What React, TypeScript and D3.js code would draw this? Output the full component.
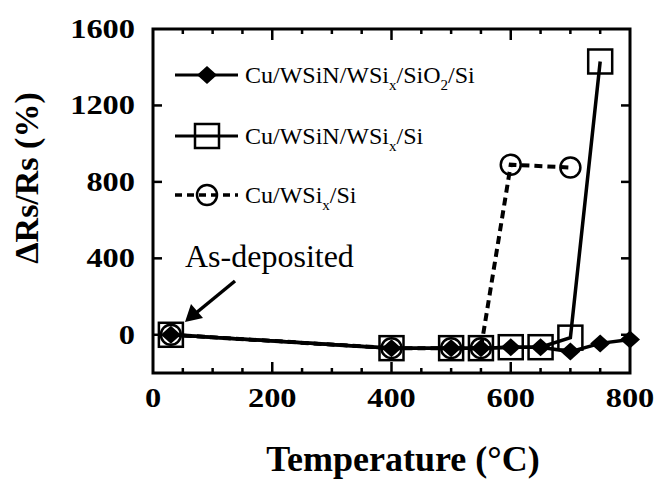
import * as d3 from "d3";

const W = 662;
const H = 481;
const FRAME = { left: 153, right: 630, top: 29, bottom: 373 };

// temperatures (°C) and ΔRs/Rs (%)
const tempSiO2 = [30, 400, 500, 550, 600, 650, 700, 750, 800];
const valSiO2 = [0, -70, -70, -70, -65, -65, -88, -45, -25];

const tempWSiN = [30, 400, 500, 550, 600, 650, 700, 750];
const valWSiN = [0, -70, -70, -70, -65, -65, -15, 1430];

const tempWSix = [30, 400, 500, 550, 600, 700];
const valWSix = [0, -70, -70, -70, 890, 875];

const xMajor = [0, 200, 400, 600, 800];
const yMajor = [0, 400, 800, 1200, 1600];

const SERIF = "'Liberation Serif', 'Times New Roman', serif";

const toPts = (t: number[], v: number[]) => t.map((d, i) => ({ x: d, y: v[i] }));

const Diamond = ({ cx, cy }: { cx: number; cy: number }) => (
  <path d={`M${cx},${cy - 9} L${cx + 10},${cy} L${cx},${cy + 9} L${cx - 10},${cy} Z`} fill="#000" />
);
const Square = ({ cx, cy }: { cx: number; cy: number }) => (
  <rect x={cx - 12} y={cy - 12} width={24} height={24} fill="none" stroke="#000" strokeWidth={2.5} />
);
const Circle = ({ cx, cy }: { cx: number; cy: number }) => (
  <circle cx={cx} cy={cy} r={10} fill="none" stroke="#000" strokeWidth={2.5} />
);

export default function App() {
  const x = d3.scaleLinear().domain([0, 800]).range([FRAME.left, FRAME.right]);
  const y = d3.scaleLinear().domain([-200, 1600]).range([FRAME.bottom, FRAME.top]);

  const line = d3
    .line<{ x: number; y: number }>()
    .x((d) => x(d.x))
    .y((d) => y(d.y));

  const sSiO2 = toPts(tempSiO2, valSiO2);
  const sWSiN = toPts(tempWSiN, valWSiN);
  const sWSix = toPts(tempWSix, valWSix);

  const xMinor = d3.range(50, 800, 50).filter((d) => d % 200 !== 0);

  // legend rows
  const legX1 = 175;
  const legX2 = 238;
  const legMid = 207;
  const legTextX = 245;
  const rows = [75, 136, 195];

  return (
    <svg width={W} height={H} style={{ position: "absolute", left: 0, top: 0, background: "#fff" }}>
      {/* frame */}
      <rect
        x={FRAME.left}
        y={FRAME.top}
        width={FRAME.right - FRAME.left}
        height={FRAME.bottom - FRAME.top}
        fill="none"
        stroke="#000"
        strokeWidth={3}
      />

      {/* x ticks, bottom and top, pointing inward */}
      {xMajor.slice(1, -1).map((d) => (
        <g key={"xM" + d}>
          <line x1={x(d)} x2={x(d)} y1={FRAME.bottom} y2={FRAME.bottom - 11} stroke="#000" strokeWidth={2.5} />
          <line x1={x(d)} x2={x(d)} y1={FRAME.top} y2={FRAME.top + 11} stroke="#000" strokeWidth={2.5} />
        </g>
      ))}
      {xMinor.map((d) => (
        <g key={"xm" + d}>
          <line x1={x(d)} x2={x(d)} y1={FRAME.bottom} y2={FRAME.bottom - 5} stroke="#000" strokeWidth={2.5} />
          <line x1={x(d)} x2={x(d)} y1={FRAME.top} y2={FRAME.top + 5} stroke="#000" strokeWidth={2.5} />
        </g>
      ))}
      {/* y ticks, left and right */}
      {yMajor.slice(0, -1).map((d) => (
        <g key={"yM" + d}>
          <line x1={FRAME.left} x2={FRAME.left + 9} y1={y(d)} y2={y(d)} stroke="#000" strokeWidth={2.5} />
          <line x1={FRAME.right} x2={FRAME.right - 9} y1={y(d)} y2={y(d)} stroke="#000" strokeWidth={2.5} />
        </g>
      ))}

      {/* tick labels, slightly stretched like the scanned figure */}
      {xMajor.map((d) => (
        <text
          key={"xl" + d}
          transform={`translate(${x(d)},407) scale(1.2,1)`}
          textAnchor="middle"
          fontFamily={SERIF}
          fontWeight="bold"
          fontSize={27}
        >
          {d}
        </text>
      ))}
      {yMajor.map((d) => (
        <text
          key={"yl" + d}
          transform={`translate(135,${y(d) + 9}) scale(1.2,1)`}
          textAnchor="end"
          fontFamily={SERIF}
          fontWeight="bold"
          fontSize={27}
        >
          {d}
        </text>
      ))}

      {/* axis titles */}
      <text x={403} y={471} textAnchor="middle" fontFamily={SERIF} fontWeight="bold" fontSize={36}>
        Temperature (°C)
      </text>
      <text
        transform="translate(38,178) rotate(-90)"
        textAnchor="middle"
        fontFamily={SERIF}
        fontWeight="bold"
        fontSize={34}
      >
        ΔRs/Rs (%)
      </text>

      {/* series lines */}
      <path d={line(sWSix) ?? ""} fill="none" stroke="#000" strokeWidth={4} strokeDasharray="8,5" />
      <path d={line(sWSiN) ?? ""} fill="none" stroke="#000" strokeWidth={3.5} />
      <path d={line(sSiO2) ?? ""} fill="none" stroke="#000" strokeWidth={3.5} />

      {/* markers */}
      {sWSix.map((d, i) => (
        <Circle key={"c" + i} cx={x(d.x)} cy={y(d.y)} />
      ))}
      {sWSiN.map((d, i) => (
        <Square key={"s" + i} cx={x(d.x)} cy={y(d.y)} />
      ))}
      {sSiO2.map((d, i) => (
        <Diamond key={"d" + i} cx={x(d.x)} cy={y(d.y)} />
      ))}

      {/* legend */}
      <line x1={legX1} x2={legX2} y1={rows[0]} y2={rows[0]} stroke="#000" strokeWidth={3} />
      <Diamond cx={legMid} cy={rows[0]} />
      <text x={legTextX} y={rows[0] + 8} fontFamily={SERIF} fontSize={24}>
        Cu/WSiN/WSi<tspan dy={7} fontSize={15}>x</tspan>
        <tspan dy={-7}>/SiO</tspan>
        <tspan dy={7} fontSize={15}>2</tspan>
        <tspan dy={-7}>/Si</tspan>
      </text>

      <line x1={legX1} x2={legX2} y1={rows[1]} y2={rows[1]} stroke="#000" strokeWidth={3} />
      <Square cx={legMid} cy={rows[1]} />
      <text x={legTextX} y={rows[1] + 8} fontFamily={SERIF} fontSize={24}>
        Cu/WSiN/WSi<tspan dy={7} fontSize={15}>x</tspan>
        <tspan dy={-7}>/Si</tspan>
      </text>

      <line
        x1={legX1}
        x2={legX2}
        y1={rows[2]}
        y2={rows[2]}
        stroke="#000"
        strokeWidth={3.5}
        strokeDasharray="7,5"
      />
      <Circle cx={legMid} cy={rows[2]} />
      <text x={legTextX} y={rows[2] + 8} fontFamily={SERIF} fontSize={24}>
        Cu/WSi<tspan dy={7} fontSize={15}>x</tspan>
        <tspan dy={-7}>/Si</tspan>
      </text>

      {/* annotation */}
      <text x={185} y={267} fontFamily={SERIF} fontSize={32}>
        As-deposited
      </text>
      <line x1={235} y1={281} x2={196} y2={313} stroke="#000" strokeWidth={3.5} />
      <path d="M185,322 L191,304 L203,318 Z" fill="#000" />
    </svg>
  );
}
